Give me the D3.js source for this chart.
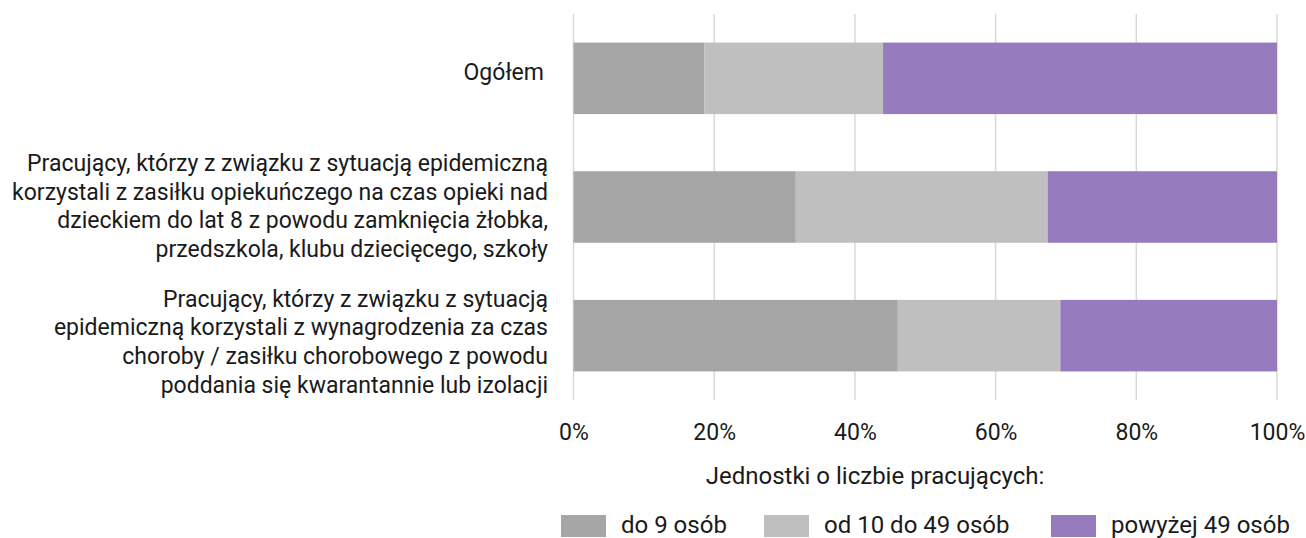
<!DOCTYPE html>
<html><head><meta charset="utf-8">
<script src="https://cdn.jsdelivr.net/npm/d3@7"></script>
<style>
html,body{margin:0;padding:0;background:#fff;}
svg text{font-family:Roboto,"Noto Sans",sans-serif;fill:#1a1a1a;}
</style></head>
<body><svg id="c" width="1306" height="538"></svg>
<script>
const categories = [
  ["Ogółem"],
  ["Pracujący, którzy z związku z sytuacją epidemiczną",
   "korzystali z zasiłku opiekuńczego na czas opieki nad",
   "dzieckiem do lat 8 z powodu zamknięcia żłobka,",
   "przedszkola, klubu dziecięcego, szkoły"],
  ["Pracujący, którzy z związku z sytuacją",
   "epidemiczną korzystali z wynagrodzenia za czas",
   "choroby / zasiłku chorobowego z powodu",
   "poddania się kwarantannie lub izolacji"]
];
const seriesNames = ["do 9 osób", "od 10 do 49 osób", "powyżej 49 osób"];
const do9 = [18.6, 31.6, 46.1];
const od10do49 = [25.4, 35.8, 23.1];
const powyzej49 = [56.0, 32.6, 30.8];
const tickValues = [0, 20, 40, 60, 80, 100];
const axisTitle = "Jednostki o liczbie pracujących:";
const colors = ["#a6a6a6", "#bfbfbf", "#967bbf"];

const svg = d3.select("#c");
const fsLab = 23, fsBig = 24;
const x = d3.scaleLinear().domain([0, 100]).range([573.5, 1277]);
const y = d3.scaleBand().domain(d3.range(categories.length)).range([14, 400]).paddingInner(0.444).paddingOuter(0.222);

// gridlines
svg.append("g").selectAll("line").data(tickValues).join("line")
  .attr("x1", d => x(d)).attr("x2", d => x(d))
  .attr("y1", 14).attr("y2", 400)
  .attr("stroke", "#d9d9d9").attr("stroke-width", 1.5);

const series = [do9, od10do49, powyzej49];
const stackData = categories.map((c, i) => {
  const o = {i};
  seriesNames.forEach((s, k) => o[s] = series[k][i]);
  return o;
});
const stacked = d3.stack().keys(seriesNames)(stackData);
svg.append("g").selectAll("g").data(stacked).join("g")
  .attr("fill", (d, k) => colors[k])
  .selectAll("rect").data(d => d).join("rect")
  .attr("x", d => x(d[0])).attr("width", d => x(d[1]) - x(d[0]))
  .attr("y", (d, i) => y(i)).attr("height", y.bandwidth());

// category labels
const lh = 28.7;
const labOff = [-6, -1, 6];
const lab = svg.append("g");
categories.forEach((lines, i) => {
  const cy = y(i) + y.bandwidth() / 2;
  const t = lab.append("text").attr("text-anchor", "end").attr("font-size", fsLab);
  lines.forEach((ln, j) => {
    t.append("tspan").attr("x", i === 0 ? 544 : 548)
      .attr("y", cy + (j - (lines.length - 1) / 2) * lh + 8 + labOff[i])
      .text(ln);
  });
});

// x axis tick labels
const ax = d3.axisBottom(x).tickValues(tickValues).tickFormat(d => d + "%").tickSize(0).tickPadding(0);
const axG = svg.append("g").attr("transform", "translate(0,440)").call(ax);
axG.select(".domain").remove();
axG.selectAll("text").attr("font-size", fsLab).attr("font-family", "Roboto,'Noto Sans',sans-serif").attr("fill", "#1a1a1a").attr("dy", 0);

svg.append("text").attr("x", 875).attr("y", 484).attr("text-anchor", "middle")
  .attr("font-size", fsBig).text(axisTitle);

// legend
const legX = [561, 764, 1051];
const lg = svg.append("g");
seriesNames.forEach((s, k) => {
  lg.append("rect").attr("x", legX[k]).attr("y", 515).attr("width", 45).attr("height", 22).attr("fill", colors[k]);
  lg.append("text").attr("x", legX[k] + 60).attr("y", 533).attr("font-size", fsBig).text(s);
});
</script></body></html>
